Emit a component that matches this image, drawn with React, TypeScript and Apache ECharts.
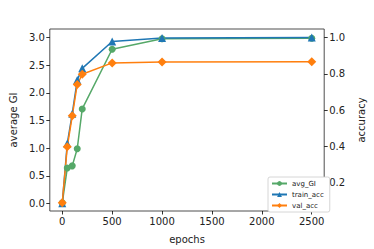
import React, { useEffect, useRef } from "react";
import * as echarts from "echarts";

const epochs = [0, 50, 100, 150, 200, 500, 1000, 2500];
const avgGI = [0.01, 0.64, 0.68, 0.99, 1.71, 2.79, 2.98, 2.99];
const trainAcc = [0.086, 0.415, 0.58, 0.765, 0.83, 0.978, 0.998, 1.0];
const valAcc = [0.089, 0.397, 0.568, 0.741, 0.797, 0.86, 0.865, 0.866];
const xTicks = [0, 500, 1000, 1500, 2000, 2500];
const leftTicks = [0, 0.5, 1.0, 1.5, 2.0, 2.5, 3.0];
const rightTicks = [0.2, 0.4, 0.6, 0.8, 1.0];

const font = "DejaVu Sans";

export default function App() {
  const ref = useRef<HTMLDivElement>(null);
  useEffect(() => {
    const chart = echarts.init(ref.current!, null, { renderer: "svg" });
    const pairs = (ys: number[]) => epochs.map((e, i) => [e, ys[i]]);
    const tickStyle = { show: true, length: 3.5, lineStyle: { color: "#000", width: 0.8 } };
    const labelStyle = { color: "#222", fontFamily: font, fontSize: 10 };
    chart.setOption({
      animation: false,
      grid: {
        left: 47,
        right: 37,
        top: 29,
        bottom: 32,
        show: true,
        borderColor: "#222",
        borderWidth: 0.8,
        backgroundColor: "transparent",
      },
      legend: {
        orient: "vertical",
        left: 268,
        top: 177,
        backgroundColor: "#fff",
        borderColor: "#ccc",
        borderWidth: 0.8,
        borderRadius: 2,
        padding: [3, 6, 3, 3],
        itemWidth: 15,
        itemHeight: 6,
        itemGap: 4,
        textStyle: { fontFamily: font, fontSize: 7, color: "#222" },
        data: ["avg_GI", "train_acc", "val_acc"],
      },
      xAxis: {
        type: "value",
        min: -125,
        max: 2625,
        name: "epochs",
        nameLocation: "middle",
        nameGap: 23,
        nameTextStyle: { fontFamily: font, fontSize: 10, color: "#222" },
        axisLine: { show: false, onZero: false },
        splitLine: { show: false },
        axisTick: { ...tickStyle, customValues: xTicks },
        axisLabel: { ...labelStyle, customValues: xTicks, margin: 5, formatter: (v: number) => String(v) },
      },
      yAxis: [
        {
          type: "value",
          min: -0.137,
          max: 3.157,
          position: "left",
          name: "average GI",
          nameLocation: "middle",
          nameGap: 31,
          nameTextStyle: { fontFamily: font, fontSize: 10, color: "#222" },
          axisLine: { show: false, onZero: false },
          splitLine: { show: false },
          axisTick: { ...tickStyle, customValues: leftTicks },
          axisLabel: {
            ...labelStyle,
            customValues: leftTicks,
            margin: 5,
            formatter: (v: number) => v.toFixed(1),
          },
        },
        {
          type: "value",
          min: 0.043,
          max: 1.047,
          position: "right",
          name: "accuracy",
          nameLocation: "middle",
          nameGap: 29,
          nameRotate: 90,
          nameTextStyle: { fontFamily: font, fontSize: 10, color: "#222" },
          axisLine: { show: false, onZero: false },
          splitLine: { show: false },
          axisTick: { ...tickStyle, customValues: rightTicks },
          axisLabel: {
            ...labelStyle,
            customValues: rightTicks,
            margin: 5,
            formatter: (v: number) => v.toFixed(1),
          },
        },
      ],
      series: [
        {
          name: "avg_GI",
          type: "line",
          yAxisIndex: 0,
          data: pairs(avgGI),
          symbol: "circle",
          symbolSize: 7,
          color: "#55a868",
          lineStyle: { width: 1.5, color: "#55a868" },
          itemStyle: { color: "#55a868" },
        },
        {
          name: "train_acc",
          type: "line",
          yAxisIndex: 1,
          data: pairs(trainAcc),
          symbol: "triangle",
          symbolSize: 8,
          color: "#1f77b4",
          lineStyle: { width: 1.5, color: "#1f77b4" },
          itemStyle: { color: "#1f77b4" },
        },
        {
          name: "val_acc",
          type: "line",
          yAxisIndex: 1,
          data: pairs(valAcc),
          symbol: "diamond",
          symbolSize: 9,
          color: "#ff7f0e",
          lineStyle: { width: 1.5, color: "#ff7f0e" },
          itemStyle: { color: "#ff7f0e" },
        },
      ],
    });
    return () => chart.dispose();
  }, []);
  return <div ref={ref} style={{ width: 374, height: 249, position: "absolute", left: 0, top: 0 }} />;
}
